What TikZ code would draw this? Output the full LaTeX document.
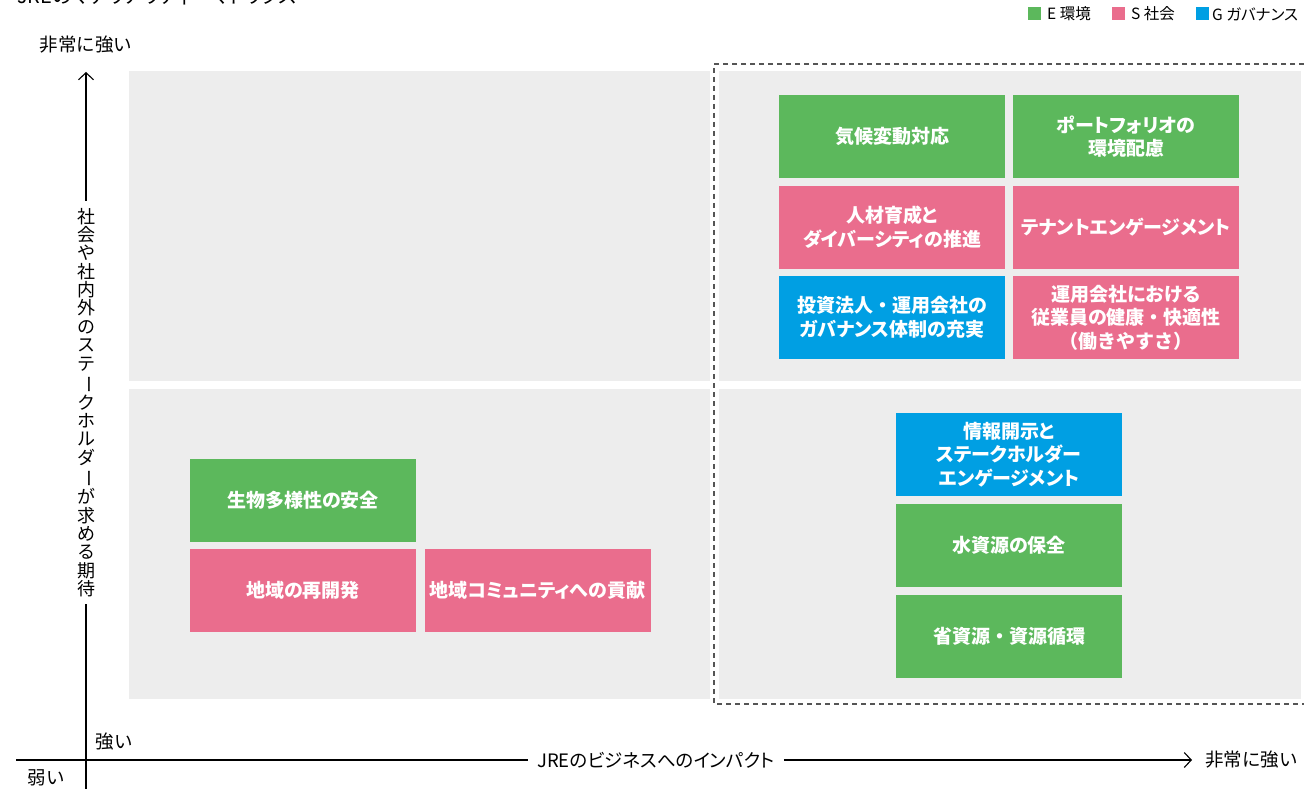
\documentclass[tikz,border=0pt]{standalone}
\usepackage{fontspec}
\usepackage{graphicx}
\usetikzlibrary{arrows.meta}
\newfontfamily\jp{Noto Sans CJK JP}
\newfontfamily\jpp[RawFeature=+palt]{Noto Sans CJK JP}
\definecolor{eg}{HTML}{5CB85C}
\definecolor{sp}{HTML}{EA6D8D}
\definecolor{gb}{HTML}{009FE3}
\definecolor{bgq}{HTML}{EDEDED}
\definecolor{dsh}{HTML}{555555}
\newcommand{\vbar}{\rotatebox[origin=c]{-90}{ー}}
\newcommand{\fdot}{{\jp ・}}
\begin{document}
\begin{tikzpicture}[x=1pt,y=-1pt,
  quad/.style={fill=bgq, draw=none},
  mbox/.style={draw=none, minimum width=226pt, minimum height=83pt, inner sep=0pt, align=center, text=white,
    font=\jpp\bfseries\fontsize{19}{23.5}\selectfont},
  egbox/.style={mbox, fill=eg},
  spbox/.style={mbox, fill=sp},
  gbbox/.style={mbox, fill=gb},
  axlab/.style={font=\jp\fontsize{18.5}{20}\selectfont, inner sep=0pt},
  axis/.style={line width=1.1pt, black},
  tip/.style={-{Straight Barb[length=7pt,width=15pt,line width=1.1pt]}},
  lgsq/.style={minimum size=13pt, inner sep=0pt, draw=none},
  lgtx/.style={font=\jpp\fontsize{15.5}{17}\selectfont, inner sep=0pt, anchor=west}
]
\useasboundingbox (0,0) rectangle (1304,789);
% title (cut off at top, as in the reference)
\node[font=\jpp\fontsize{20}{24}\selectfont, anchor=base west, inner sep=0pt] (title) at (17,4) {JREのマテリアリティ\fdot マトリクス};
% legend
\node[lgsq, fill=eg] (lg1) at (1034.5,14) {};
\node[lgtx] (lgt1) at (1047,14) {E 環境};
\node[lgsq, fill=sp] (lg2) at (1118.5,14) {};
\node[lgtx] (lgt2) at (1131,14) {S 社会};
\node[lgsq, fill=gb] (lg3) at (1202.5,14) {};
\node[lgtx] (lgt3) at (1212,14) {G ガバナンス};
% quadrants
\fill[quad] (129,71) rectangle (710,381);
\fill[quad] (719,71) rectangle (1301,381);
\fill[quad] (129,389) rectangle (710,699);
\fill[quad] (719,389) rectangle (1301,699);
% dashed area
\draw[dsh, line width=1.4pt, dash pattern=on 5pt off 4pt] (1304,64) -- (714,64) -- (714,704) -- (1304,704);
% boxes upper right
\node[egbox] (b1) at (892,136.5) {気候変動対応};
\node[egbox] (b2) at (1126,136.5) {ポートフォリオの\\環境配慮};
\node[spbox] (b3) at (892,227) {人材育成と\\ダイバーシティの推進};
\node[spbox] (b4) at (1126,227) {テナントエンゲージメント};
\node[gbbox] (b5) at (892,317.5) {投資法人\fdot 運用会社の\\ガバナンス体制の充実};
\node[spbox] (b6) at (1126,317.5) {運用会社における\\従業員の健康\fdot 快適性\\{\jp （働きやすさ）}};
% lower right
\node[gbbox] (b7) at (1009,454.5) {情報開示と\\ステークホルダー\\エンゲージメント};
\node[egbox] (b8) at (1009,545.5) {水資源の保全};
\node[egbox] (b9) at (1009,636.5) {省資源\fdot 資源循環};
% lower left
\node[egbox] (b10) at (303,500.5) {生物多様性の安全};
\node[spbox] (b11) at (303,590.5) {地域の再開発};
\node[spbox] (b12) at (537.5,590.5) {地域コミュニティへの貢献};
% axes
\coordinate (ytop) at (86,72);
\coordinate (ybot) at (86,789);
\coordinate (xleft) at (16,760);
\coordinate (xright) at (1192,760);
\node[font=\jp\fontsize{18}{18.35}\selectfont, align=center, inner sep=0pt] (ylab) at (86,402.5)
  {社\\会\\や\\社\\内\\外\\の\\ス\\テ\\\vbar\\ク\\ホ\\ル\\ダ\\\vbar\\が\\求\\め\\る\\期\\待};
\draw[axis, tip] ([yshift=7pt]ylab.north) -- (ytop);
\draw[axis] ([yshift=-7pt]ylab.south) -- (ybot);
\node[inner sep=0pt, font=\jpp\fontsize{18.5}{20}\selectfont] (xlab) at (656,760) {JREのビジネスへのインパクト};
\draw[axis] (xleft) -- ([xshift=-9pt]xlab.west);
\draw[axis, tip] ([xshift=9pt]xlab.east) -- (xright);
\node[axlab, anchor=west] (xhi) at (1205,760) {非常に強い};
\node[axlab] (yhi) at (86,45) {非常に強い};
\node[axlab] (strong) at (114,742) {強い};
\node[axlab] (weak) at (46,778) {弱い};
\end{tikzpicture}
\end{document}
